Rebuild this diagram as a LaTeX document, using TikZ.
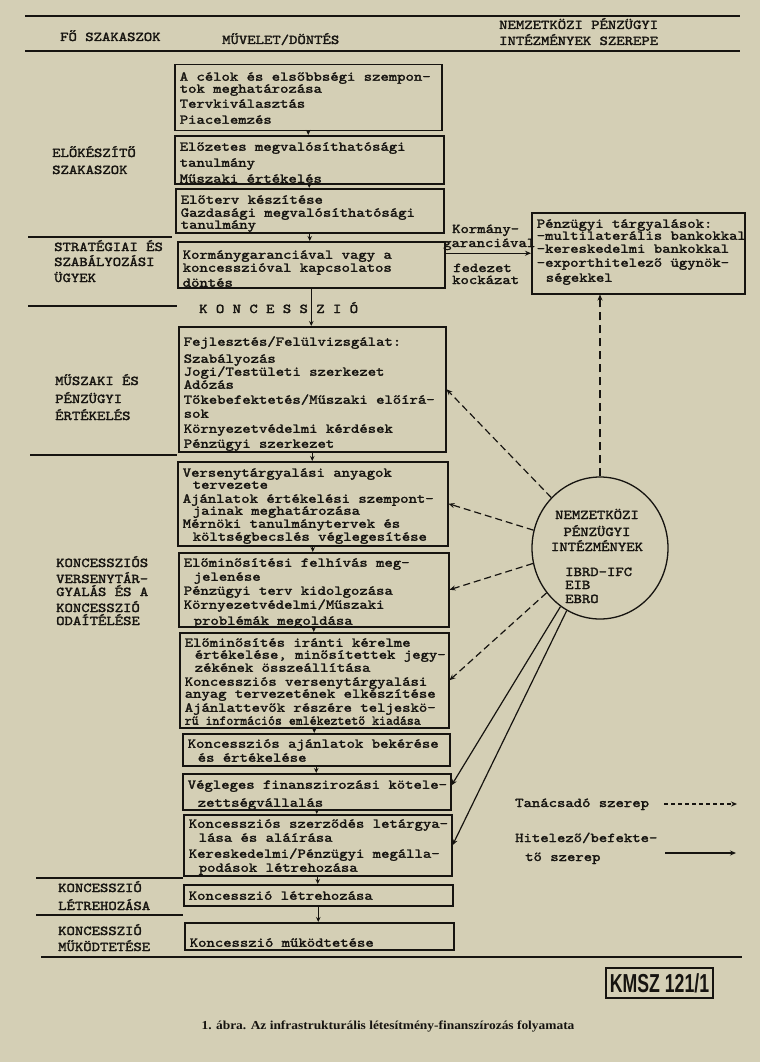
\documentclass[tikz,border=0pt]{standalone}
\usepackage{fontspec}
\usepackage{graphicx}
\usetikzlibrary{arrows.meta,shapes.geometric,calc}
\newfontfamily\twfont{lmmono10-regular}[Extension=.otf,FakeStretch=1.18,FakeBold=2]
\newfontfamily\capfont{Liberation Serif}
\newfontfamily\kmszfont{Liberation Sans}[FakeStretch=0.68]
\definecolor{paper}{RGB}{212,207,181}
\definecolor{ink}{RGB}{22,20,16}
\newcommand\tw{\twfont\fontsize{13.5}{13}\selectfont\lineskiplimit=-100pt\relax}
\newcommand\boxtext[3]{\makebox[#1][l]{\parbox[t][#2][t]{400pt}{\tw #3}}}
\newcommand\labtext[1]{\parbox[t]{200pt}{\tw #1}}
\begin{document}
\begin{tikzpicture}[x=1pt,y=-1pt,color=ink,
  stepbox/.style={draw=ink,line width=1.5pt,inner xsep=5pt,inner ysep=0pt,anchor=north west},
  lab/.style={anchor=base west,inner sep=0pt},
  secline/.style={line width=1.7pt},
  arr/.style={line width=1pt,-{Stealth[length=5pt,width=4.5pt]}},
  darr/.style={line width=1.2pt,dash pattern=on 7pt off 4pt,-{Stealth[length=6pt,width=5pt]}},
  sarr/.style={line width=1.2pt,-{Stealth[length=6pt,width=5pt]}},
  legdash/.style={line width=1.2pt,dash pattern=on 4pt off 3pt,-{Stealth[length=6pt,width=5pt]}}
]
\useasboundingbox (0,0) rectangle (760,1062);
\fill[paper] (0,0) rectangle (760,1062);

% section rules
\draw[secline] (25,16) -- (740,16);
\draw[secline] (25,51) -- (740,51);
\draw[secline] (28,237) -- (172,237);
\draw[secline] (28,306) -- (177,306);
\draw[secline] (30,455) -- (177,455);
\draw[secline] (36,878) -- (183,878);
\draw[secline] (36,915) -- (183,915);
\draw[secline] (41,957) -- (742,957);

% headers
\node[lab] (hfo) at (60,41) {\labtext{FŐ SZAKASZOK}};
\node[lab] (hmu) at (222,44) {\labtext{MŰVELET/DÖNTÉS}};
\node[lab] (hnp) at (499,29) {\labtext{NEMZETKÖZI PÉNZÜGYI\\[3pt]INTÉZMÉNYEK SZEREPE}};

% left labels
\node[lab] (l1) at (52,157) {\labtext{ELŐKÉSZÍTŐ\\[4pt]SZAKASZOK}};
\node[lab] (l2) at (54,251) {\labtext{STRATÉGIAI ÉS\\[2pt]SZABÁLYOZÁSI\\[3pt]ÜGYEK}};
\node[lab] (l3) at (55,385) {\labtext{MŰSZAKI ÉS\\[5pt]PÉNZÜGYI\\[4pt]ÉRTÉKELÉS}};
\node[lab] (l4) at (56,567) {\labtext{KONCESSZIÓS\\[3pt]VERSENYTÁR-\\[0pt]GYALÁS ÉS A\\[3pt]KONCESSZIÓ\\ODAÍTÉLÉSE}};
\node[lab] (l5) at (58,892) {\labtext{KONCESSZIÓ\\[5pt]LÉTREHOZÁSA}};
\node[lab] (l6) at (58,935) {\labtext{KONCESSZIÓ\\[3pt]MŰKÖDTETÉSE}};

% main column
\node[stepbox] (b1) at (174,64) {\boxtext{257pt}{66pt}{\rule{0pt}{16pt}A célok és elsőbbségi szempon-\\[-1pt]
tok meghatározása\\[2pt]
Tervkiválasztás\\[3pt]
Piacelemzés}};
\node[stepbox] (b2) at (174,135) {\boxtext{259pt}{48pt}{\rule{0pt}{15pt}Előzetes megvalósíthatósági\\[3pt]
tanulmány\\[3pt]
Műszaki értékelés}};
\node[stepbox] (b3) at (175,188) {\boxtext{258pt}{44pt}{\rule{0pt}{15pt}Előterv készítése\\
Gazdasági megvalósíthatósági\\[-1pt]
tanulmány}};
\node[stepbox] (b4) at (177,241) {\boxtext{257pt}{46pt}{\rule{0pt}{17pt}Kormánygaranciával vagy a\\
koncesszióval kapcsolatos\\[2pt]
döntés}};
\node[lab] (konc) at (199,313) {\labtext{K O N C E S S Z I Ó}};
\node[stepbox] (b5) at (178,326) {\boxtext{257pt}{125pt}{\rule{0pt}{19pt}Fejlesztés/Felülvizsgálat:\\[4pt]
Szabályozás\\
Jogi/Testületi szerkezet\\
Adózás\\[2pt]
Tőkebefektetés/Műszaki előírá-\\[1pt]
sok\\[2pt]
Környezetvédelmi kérdések\\[2pt]
Pénzügyi szerkezet}};
\node[stepbox] (b6) at (177,461) {\boxtext{260pt}{84pt}{\rule{0pt}{15pt}Versenytárgyalási anyagok\\[-1pt]
\hspace*{10pt}tervezete\\[1pt]
Ajánlatok értékelési szempont-\\[-1pt]
\hspace*{10pt}jainak meghatározása\\[0pt]
Mérnöki tanulmánytervek és\\[0pt]
\hspace*{10pt}költségbecslés véglegesítése}};
\node[stepbox] (b7) at (178,552) {\boxtext{260pt}{74pt}{\rule{0pt}{14pt}Előminősítési felhívás meg-\\[1pt]
\hspace*{10pt}jelenése\\[1pt]
Pénzügyi terv kidolgozása\\[1pt]
Környezetvédelmi/Műszaki\\[3pt]
\hspace*{10pt}problémák megoldása}};
\node[stepbox] (b8) at (179,632) {\boxtext{259pt}{95pt}{\rule{0pt}{14pt}Előminősítés iránti kérelme\\[-1pt]
\hspace*{10pt}értékelése, minősítettek jegy-\\[0pt]
\hspace*{10pt}zékének összeállítása\\[1pt]
Koncessziós versenytárgyalási\\[-1pt]
anyag tervezetének elkészítése\\[1pt]
Ajánlattevők részére teljeskö-\\
\scalebox{0.83}[1]{rű információs emlékeztető kiadása}}};
\node[stepbox] (b9) at (182,733) {\boxtext{257pt}{32pt}{\rule{0pt}{14pt}Koncessziós ajánlatok bekérése\\[1pt]
\hspace*{10pt}és értékelése}};
\node[stepbox] (b10) at (182,773) {\boxtext{258pt}{36pt}{\rule{0pt}{15pt}Végleges finanszirozási kötele-\\[5pt]
\hspace*{10pt}zettségvállalás}};
\node[stepbox] (b11) at (183,814) {\boxtext{258pt}{61pt}{\rule{0pt}{13pt}Koncessziós szerződés letárgya-\\[1pt]
\hspace*{10pt}lása és aláírása\\[3pt]
Kereskedelmi/Pénzügyi megálla-\\[1pt]
\hspace*{10pt}podások létrehozása}};
\node[stepbox] (b12) at (183,884) {\boxtext{259pt}{21pt}{\rule{0pt}{15pt}Koncesszió létrehozása}};
\node[stepbox] (b13) at (184,922) {\boxtext{259pt}{27pt}{\rule{0pt}{24pt}Koncesszió működtetése}};

% flow arrows
\foreach \a/\b in {b1/b2,b2/b3,b3/b4,b4/b5,b5/b6,b6/b7,b7/b8,b8/b9,b9/b10,b10/b11,b11/b12,b12/b13}
  \draw[arr] (\a.south) -- (\a.south |- \b.north);

% right side
\node[stepbox] (rb) at (531,212) {\boxtext{203pt}{81pt}{\rule{0pt}{15pt}Pénzügyi tárgyalások:\\[-1pt]
-multilaterális bankokkal\\
-kereskedelmi bankokkal\\[1pt]
-exporthitelező ügynök-\\[2pt]
\hspace*{9pt}ségekkel}};
\node[lab] (kg) at (443,233) {\labtext{\hspace*{9pt}Kormány-\\[1pt]garanciával}};
\node[lab] (fk) at (452,272) {\labtext{\hspace*{1pt}fedezet\\[-1pt]kockázat}};
\draw[sarr] (b4.east |- rb.west) -- (rb.west);

\node[draw=ink,ellipse,line width=1.3pt,minimum width=136pt,minimum height=142pt,inner sep=0pt] (ell) at (600,548) {};
\node[anchor=base,inner sep=0pt] (etitle) at (597,519) {\parbox[t]{120pt}{\tw\centering NEMZETKÖZI\\[4pt]PÉNZÜGYI\\[2pt]INTÉZMÉNYEK}};
\node[lab] (elist) at (565,576) {\labtext{IBRD-IFC\\EIB\\[1pt]EBRO}};

\draw[darr,dash pattern=on 8pt off 5pt] (ell.north) -- (ell.north |- rb.south);
\draw[darr] (ell.134) -- (b5.east);
\draw[darr] (ell.165) -- (b6.east);
\draw[darr] (ell.193) -- (b7.east);
\draw[darr] (ell.220) -- (b8.east);
\draw[sarr] (ell.236) -- ($(b10.north east)!0.33!(b10.south east)$);
\draw[sarr] (ell.242) -- (b11.east);

% legend
\node[lab] (lg1) at (515,807) {\labtext{Tanácsadó szerep}};
\node[lab] (lg2) at (515,842) {\labtext{Hitelező/befekte-\\[6pt]\hspace*{10pt}tő szerep}};
\coordinate (la1) at (664,804);
\coordinate (la2) at (737,804);
\coordinate (lb1) at (665,853);
\coordinate (lb2) at (736,853);
\draw[legdash] (la1) -- (la2);
\draw[sarr] (lb1) -- (lb2);

% stamp and caption
\node[draw=ink,line width=2.4pt,minimum width=107pt,minimum height=30pt,inner sep=0pt] (kmsz) at (659.5,983) {\kmszfont\bfseries\fontsize{26}{26}\selectfont KMSZ 121/1};
\node[anchor=base,inner sep=0pt] (cap) at (388,1029) {\scalebox{1.1}[1]{\capfont\bfseries\fontsize{12.2}{13}\selectfont 1. ábra. Az infrastrukturális létesítmény-finanszírozás folyamata}};
\end{tikzpicture}
\end{document}
